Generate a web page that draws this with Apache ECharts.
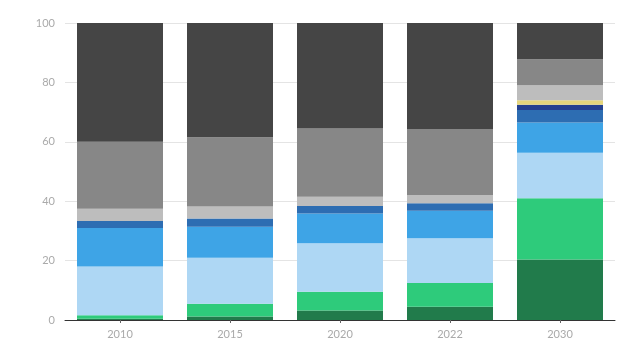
<!DOCTYPE html>
<html><head><meta charset="utf-8">
<script src="https://cdn.jsdelivr.net/npm/echarts@6/dist/echarts.min.js"></script>
<style>html,body{margin:0;padding:0;background:#fff}#c{width:621px;height:342px}</style>
</head><body><div id="c"></div>
<script>
const categories = ['2010', '2015', '2020', '2022', '2030'];
const darkGreen  = [0.4, 1.2, 3.2, 4.5, 20.4];
const green      = [1.2, 4.3, 6.3, 8.0, 20.6];
const lightBlue  = [16.4, 15.5, 16.3, 15.0, 15.3];
const blue       = [13.0, 10.4, 10.1, 9.3, 10.2];
const midBlue    = [2.3, 2.8, 2.5, 2.5, 4.2];
const navy       = [0, 0, 0, 0, 1.8];
const yellow     = [0, 0, 0, 0, 1.5];
const lightGray  = [4.2, 4.0, 3.1, 2.8, 5.0];
const gray       = [22.5, 23.3, 23.0, 22.2, 8.8];
const darkGray   = [40.0, 38.5, 35.5, 35.7, 12.2];
const yTicks = [0, 20, 40, 60, 80, 100];

const layers = [
  ['darkGreen', darkGreen, '#217b4b'],
  ['green', green, '#2ecb7b'],
  ['lightBlue', lightBlue, '#aed7f4'],
  ['blue', blue, '#3ea4e6'],
  ['midBlue', midBlue, '#2d6db2'],
  ['navy', navy, '#25418f'],
  ['yellow', yellow, '#e6d67c'],
  ['lightGray', lightGray, '#bdbdbd'],
  ['gray', gray, '#878787'],
  ['darkGray', darkGray, '#454545']
];

const chart = echarts.init(document.getElementById('c'));
chart.setOption({
  animation: false,
  grid: { left: 65, right: 6, top: 23, bottom: 22 },
  xAxis: {
    type: 'category', data: categories,
    axisLine: { lineStyle: { color: '#333', width: 1 } },
    axisTick: { show: true, alignWithLabel: true, length: 3, lineStyle: { color: '#666' } },
    axisLabel: { color: '#aaa', fontFamily: 'Lato', fontSize: 11, margin: 9 }
  },
  yAxis: {
    type: 'value', min: yTicks[0], max: yTicks[yTicks.length - 1], interval: 20,
    axisLine: { show: false }, axisTick: { show: false },
    axisLabel: { color: '#aaa', fontFamily: 'Lato', fontSize: 11, margin: 10 },
    splitLine: { lineStyle: { color: '#e4e4e4' } }
  },
  series: layers.map(([name, data, color]) => ({
    name, type: 'bar', stack: 'total', data, barWidth: 86,
    itemStyle: { color }
  }))
});
</script></body></html>
